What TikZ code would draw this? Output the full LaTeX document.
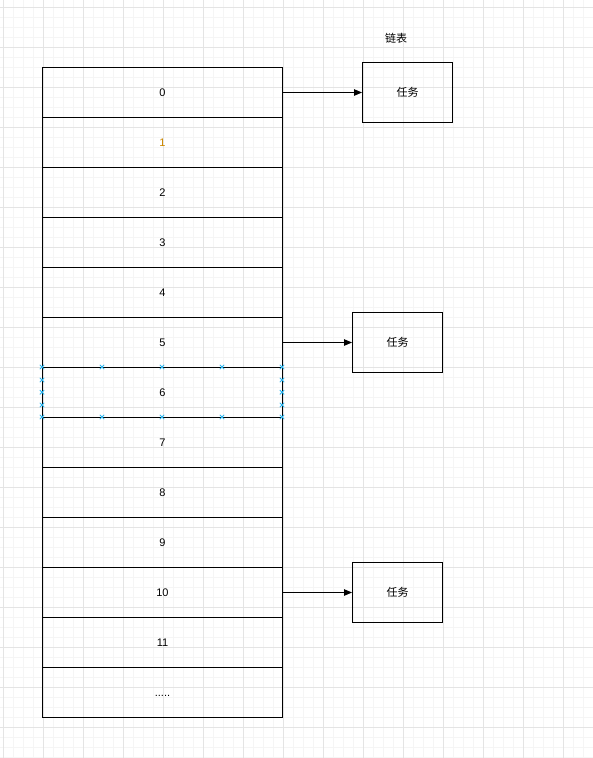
\documentclass[tikz,border=0pt]{standalone}
\usepackage{fontspec}
\setmainfont{Liberation Sans}
\newfontfamily\cjk{Noto Sans CJK SC}
\usetikzlibrary{arrows.meta}
\definecolor{gridminor}{RGB}{245,245,245}
\definecolor{gridmajor}{RGB}{228,228,228}
\definecolor{handle}{RGB}{41,182,242}
\definecolor{orangetxt}{RGB}{204,136,0}
\tikzset{
  cell/.style={draw=black, line width=1pt, minimum width=240pt, minimum height=50pt, inner sep=0pt, font=\fontsize{11}{13}\selectfont, anchor=north west},
  taskbox/.style={draw=black, line width=1pt, minimum width=90pt, minimum height=60pt, inner sep=0pt, font=\cjk\fontsize{11}{13}\selectfont, anchor=north west},
  link/.style={-{Triangle[length=8pt,width=6.5pt]}, line width=1pt},
  hmark/.style={handle, line width=0.8pt}
}
\begin{document}
\begin{tikzpicture}[x=1pt,y=-1pt]
\useasboundingbox (0,0) rectangle (593,758);
\fill[white] (0,0) rectangle (593,758);
% grid
\foreach \x in {3,13,...,593} \draw[gridminor, line width=0.7pt] (\x,0) -- (\x,758);
\foreach \y in {7,17,...,758} \draw[gridminor, line width=0.7pt] (0,\y) -- (593,\y);
\foreach \x in {3,43,...,593} \draw[gridmajor, line width=0.8pt] (\x,0) -- (\x,758);
\foreach \y in {7,47,...,758} \draw[gridmajor, line width=0.8pt] (0,\y) -- (593,\y);
% cells
\node[cell] (c0) at (42,67) {0};
\node[cell] (c1) at (42,117) {\textcolor{orangetxt}{1}};
\node[cell] (c2) at (42,167) {2};
\node[cell] (c3) at (42,217) {3};
\node[cell] (c4) at (42,267) {4};
\node[cell] (c5) at (42,317) {5};
\node[cell] (c6) at (42,367) {6};
\node[cell] (c7) at (42,417) {7};
\node[cell] (c8) at (42,467) {8};
\node[cell] (c9) at (42,517) {9};
\node[cell] (c10) at (42,567) {10};
\node[cell] (c11) at (42,617) {11};
\node[cell, text height=8pt, text depth=0pt] (c12) at (42,667) {.....};
% tasks
\node[taskbox] (t0) at (362,62) {任务};
\node[taskbox] (t5) at (352,312) {任务};
\node[taskbox] (t10) at (352,562) {任务};
\node[font=\cjk\fontsize{11}{13}\selectfont] (lbl) at (396,38) {链表};
% arrows
\draw[link] (c0.east) -- (t0.west);
\draw[link] (c5.east) -- (t5.west);
\draw[link] (c10.east) -- (t10.west);
% selection handles on row 6
\foreach \x in {42,102,162,222,282} {
  \foreach \y in {367,417} {
    \draw[hmark] (\x-2.2,\y-2.2) -- (\x+2.2,\y+2.2) (\x-2.2,\y+2.2) -- (\x+2.2,\y-2.2);
  }
}
\foreach \x in {42,282} {
  \foreach \y in {380,392.3,405} {
    \draw[hmark] (\x-2.2,\y-2.2) -- (\x+2.2,\y+2.2) (\x-2.2,\y+2.2) -- (\x+2.2,\y-2.2);
  }
}
\end{tikzpicture}
\end{document}
